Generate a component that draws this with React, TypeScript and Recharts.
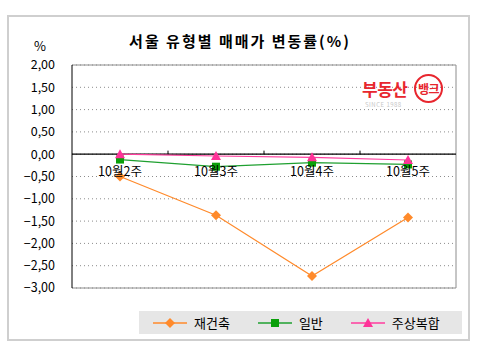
import React from 'react';
import { LineChart, Line, XAxis, YAxis, CartesianGrid, ReferenceLine, ReferenceDot } from 'recharts';

const categories = ['10월2주', '10월3주', '10월4주', '10월5주'];
const reconstruction = [-0.5, -1.37, -2.73, -1.42];
const general = [-0.12, -0.28, -0.19, -0.23];
const mixedUse = [0.0, -0.04, -0.07, -0.13];
const yTicks = [2, 1.5, 1, 0.5, 0, -0.5, -1, -1.5, -2, -2.5, -3];

const seriesKeys = ['reconstruction', 'general', 'mixedUse'];
const seriesNames: Record<string, string> = { reconstruction: '재건축', general: '일반', mixedUse: '주상복합' };
const colors: Record<string, string> = { reconstruction: '#FF8A2B', general: '#1FA030', mixedUse: '#FF3D9E' };
const markerColors: Record<string, string> = { reconstruction: '#FF8A2B', general: '#0AA00A', mixedUse: '#FF3399' };

const data = categories.map((c, i) => ({
  idx: i,
  cat: c,
  reconstruction: reconstruction[i],
  general: general[i],
  mixedUse: mixedUse[i],
}));
const xDomain: [number, number] = [-0.5, categories.length - 0.5];
const yDomain: [number, number] = [-3, 2];
const boundaries = categories.slice(1).map((_, i) => i + 0.5);

const FONT = '"Noto Sans CJK KR", "Noto Sans", sans-serif';

const fmt = (v: number) => {
  const s = Math.abs(v).toFixed(2).replace('.', ',');
  return v < 0 ? '\u2212' + s : s;
};

const Diamond = (props: any) => {
  const { cx, cy, fill } = props;
  if (cx == null || cy == null) return null;
  return <path d={`M${cx},${cy - 5}L${cx + 5},${cy}L${cx},${cy + 5}L${cx - 5},${cy}Z`} fill={fill} />;
};
const Square = (props: any) => {
  const { cx, cy, fill } = props;
  if (cx == null || cy == null) return null;
  return <rect x={cx - 4} y={cy - 4} width={8} height={8} fill={fill} />;
};
const Triangle = (props: any) => {
  const { cx, cy, fill } = props;
  if (cx == null || cy == null) return null;
  return <path d={`M${cx},${cy - 5}L${cx + 5},${cy + 4}L${cx - 5},${cy + 4}Z`} fill={fill} />;
};

const markerFor: Record<string, any> = { reconstruction: Diamond, general: Square, mixedUse: Triangle };

const LegendBox = () => (
  <div style={{ position: 'absolute', left: 139, top: 311, width: 323, height: 23, display: 'flex', alignItems: 'center', background: '#E6E6E6', fontFamily: FONT, fontSize: 13, color: '#000' }}>
    {seriesKeys.map((key, i) => {
      const M = markerFor[key];
      return (
        <div key={key} style={{ display: 'flex', alignItems: 'center', marginLeft: i === 0 ? 14 : 28 }}>
          <svg width={36} height={14}>
            <line x1={0} y1={7} x2={34} y2={7} stroke={colors[key]} strokeWidth={1.5} />
            <M cx={17} cy={7} fill={markerColors[key]} />
          </svg>
          <span style={{ marginLeft: 5 }}>{seriesNames[key]}</span>
        </div>
      );
    })}
  </div>
);

export default function App() {
  return (
    <div style={{ position: 'absolute', left: 0, top: 0, width: 480, height: 354, background: '#fff', fontFamily: FONT }}>
      <div style={{ position: 'absolute', left: 7, top: 15, width: 459, height: 322, border: '2px solid #CFCFCF' }} />
      <div style={{ position: 'absolute', left: 0, width: 480, top: 30, textAlign: 'center', fontSize: 15, fontWeight: 700, letterSpacing: 2, color: '#000' }}>
        서울 유형별 매매가 변동률(%)
      </div>
      <div style={{ position: 'absolute', left: 34, top: 36, fontSize: 13, color: '#000' }}>%</div>
      <div style={{ position: 'absolute', left: 0, top: 0 }}>
        <LineChart width={480} height={354} data={data} margin={{ top: 65, right: 24, bottom: 66, left: 0 }}>
          <CartesianGrid horizontal vertical={false} stroke="#8C8C8C" strokeDasharray="1 3" />
          <XAxis dataKey="idx" type="number" domain={xDomain} allowDataOverflow height={0} tick={false} tickLine={false} axisLine={false} />
          <YAxis
            domain={yDomain}
            ticks={yTicks}
            interval={0}
            width={72}
            tickFormatter={fmt}
            tickLine={false}
            axisLine={{ stroke: '#000' }}
            tickMargin={11}
            tick={{ fill: '#000', fontSize: 12.5, fontFamily: FONT }}
          />
          <ReferenceLine y={yDomain[1]} stroke="#8C8C8C" />
          <ReferenceLine y={yDomain[0]} stroke="#8C8C8C" />
          <ReferenceLine x={xDomain[1]} stroke="#8C8C8C" />
          <ReferenceLine y={0} stroke="#000" strokeWidth={1.2} />
          {boundaries.map((b) => (
            <ReferenceLine key={b} segment={[{ x: b, y: 0 }, { x: b, y: 0.08 }]} stroke="#000" />
          ))}
          {categories.map((c, i) => (
            <ReferenceDot key={c} x={i} y={0} r={0} stroke="none" fill="none" ifOverflow="visible"
              label={{ value: c, position: 'bottom', offset: 13, fill: '#000', fontSize: 12.5, fontFamily: FONT }} />
          ))}
          <Line dataKey="reconstruction" name={seriesNames.reconstruction} stroke={colors.reconstruction} strokeWidth={1.2} isAnimationActive={false}
            dot={<Diamond fill={markerColors.reconstruction} />} activeDot={false} />
          <Line dataKey="general" name={seriesNames.general} stroke={colors.general} strokeWidth={1.2} isAnimationActive={false}
            dot={<Square fill={markerColors.general} />} activeDot={false} />
          <Line dataKey="mixedUse" name={seriesNames.mixedUse} stroke={colors.mixedUse} strokeWidth={1.2} isAnimationActive={false}
            dot={<Triangle fill={markerColors.mixedUse} />} activeDot={false} />
        </LineChart>
      </div>
      <LegendBox />
      <div style={{ position: 'absolute', left: 362, top: 76, fontSize: 17, fontWeight: 700, color: '#E8262E', letterSpacing: -0.5 }}>부동산</div>
      <div style={{ position: 'absolute', left: 414, top: 74, width: 25, height: 25, borderRadius: '50%', border: '2px solid #E8262E', display: 'flex', alignItems: 'center', justifyContent: 'center', fontSize: 12, fontWeight: 700, color: '#E8262E', letterSpacing: -0.5 }}>뱅크</div>
      <div style={{ position: 'absolute', left: 365, top: 100, fontSize: 6, color: '#C8C8C8', letterSpacing: 0.5 }}>SINCE 1988</div>
    </div>
  );
}
